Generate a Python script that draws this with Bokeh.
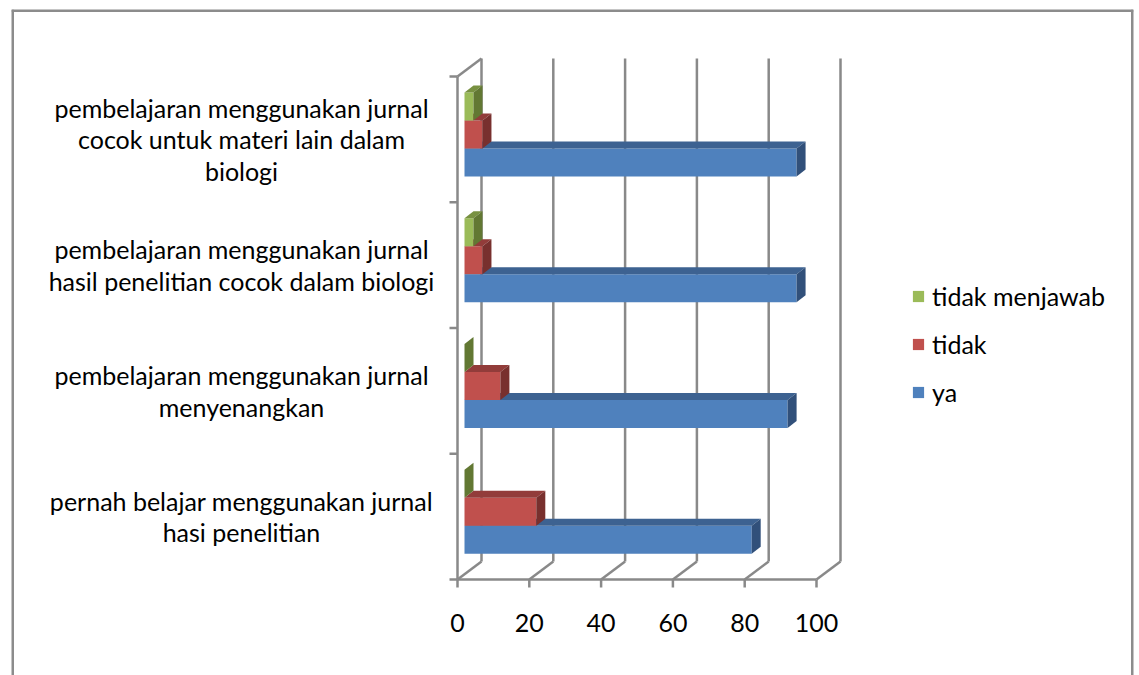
from bokeh.plotting import figure
from bokeh.models import Range1d, ColumnDataSource, Legend, LegendItem
from bokeh.core.properties import value
from bokeh.embed import file_html
from bokeh.resources import INLINE

# --- data -----------------------------------------------------------------
categories = [
    "pernah belajar menggunakan jurnal\nhasi penelitian",
    "pembelajaran menggunakan jurnal\nmenyenangkan",
    "pembelajaran menggunakan jurnal\nhasil penelitian cocok dalam biologi",
    "pembelajaran menggunakan jurnal\ncocok untuk materi lain dalam\nbiologi",
]
series_names = ["ya", "tidak", "tidak menjawab"]
ya = [80, 90, 92.5, 92.5]
tidak = [20, 10, 5, 5]
tidak_menjawab = [0, 0, 2.5, 2.5]
x_ticks = [0, 20, 40, 60, 80, 100]

# --- styling --------------------------------------------------------------
FONT = "Lato"
FONT_SIZE = "25px"
GRID = "#898989"
BORDER = "#8C8C8C"
# (front, top, side) shades for each series
SHADES = {
    "ya": ("#4F81BD", "#3D6291", "#31507A"),
    "tidak": ("#C0504D", "#923C3A", "#78302E"),
    "tidak menjawab": ("#9BBB59", "#789141", "#627833"),
}

W, H = 1139, 675
B_LEFT, B_RIGHT, B_TOP, B_BOTTOM = 11, 6, 9, 0
FW, FH = W - B_LEFT - B_RIGHT, H - B_TOP - B_BOTTOM

PX_X = 3.59      # pixels per value unit
PX_Y = 125.75    # pixels per category band
ORIGIN_X = 446   # frame pixels from the left to value 0
ORIGIN_Y = 96    # frame pixels from the bottom to the first band

x_start = -ORIGIN_X / PX_X
y_start = -ORIGIN_Y / PX_Y
x_range = Range1d(x_start, x_start + FW / PX_X)
y_range = Range1d(y_start, y_start + FH / PX_Y)


def ux(px):
    return px / PX_X


def uy(px):
    return px / PX_Y


# oblique projection of the chart depth
WALL_DX, WALL_DY = ux(24), uy(18)
BAR_X0, BAR_Y0 = ux(7), uy(5)      # front face of bars sits inside the box
BAR_DX, BAR_DY = ux(9), uy(7)      # thickness of each bar
BAR_H = uy(28)
n_cat = len(categories)

p = figure(width=W, height=H, x_range=x_range, y_range=y_range,
           output_backend="svg", toolbar_location=None,
           x_axis_location=None, y_axis_location=None,
           min_border_left=B_LEFT, min_border_right=B_RIGHT,
           min_border_top=B_TOP, min_border_bottom=B_BOTTOM)
p.grid.visible = False
p.outline_line_color = None
p.background_fill_color = "white"
p.border_fill_color = "white"

# chart-area border: left, top and right edges of the frame
xr0, xr1 = x_range.start, x_range.end
yr0, yr1 = y_range.start, y_range.end
p.segment(x0=[xr0, xr0, xr1], y0=[yr0, yr1, yr1],
          x1=[xr0, xr1, xr1], y1=[yr1, yr1, yr0],
          line_color=BORDER, line_width=5)

# --- box walls --------------------------------------------------------------
top = n_cat
seg = dict(x0=[], y0=[], x1=[], y1=[])


def add(a, b, c, d):
    seg["x0"].append(a); seg["y0"].append(b)
    seg["x1"].append(c); seg["y1"].append(d)


for t in x_ticks:
    add(t + WALL_DX, WALL_DY, t + WALL_DX, top + WALL_DY)   # back gridline
    add(t, 0, t + WALL_DX, WALL_DY)                         # floor diagonal
    add(t, 0, t, -uy(8))                                    # tick mark
add(x_ticks[0], 0, x_ticks[-1], 0)                          # floor front edge
add(0, 0, 0, top)                                           # side wall front edge
add(0, top, WALL_DX, top + WALL_DY)                         # side wall top edge
for i in range(n_cat + 1):
    add(-ux(8), i, 0, i)                                    # category ticks
p.segment(x0="x0", y0="y0", x1="x1", y1="y1", source=ColumnDataSource(seg),
          line_color=GRID, line_width=2.5)

# --- 3D bars ----------------------------------------------------------------
values = {"ya": ya, "tidak": tidak, "tidak menjawab": tidak_menjawab}
front_renderers = {}
for k, name in enumerate(series_names):
    vals = values[name]
    front, top_c, side_c = SHADES[name]
    ys = [i + 0.5 + (k - 1) * BAR_H + BAR_Y0 for i in range(n_cat)]
    lefts = [BAR_X0] * n_cat
    rights = [BAR_X0 + v for v in vals]
    r = p.hbar(y=ys, left=lefts, right=rights, height=BAR_H,
               fill_color=front, line_color=None)
    front_renderers[name] = r
    top_xs, top_ys, side_xs, side_ys = [], [], [], []
    for y, l, rr in zip(ys, lefts, rights):
        yt, yb = y + BAR_H / 2, y - BAR_H / 2
        top_xs.append([l, rr, rr + BAR_DX, l + BAR_DX])
        top_ys.append([yt, yt, yt + BAR_DY, yt + BAR_DY])
        side_xs.append([rr, rr, rr + BAR_DX, rr + BAR_DX])
        side_ys.append([yb, yt, yt + BAR_DY, yb + BAR_DY])
    p.patches(xs=top_xs, ys=top_ys, fill_color=top_c, line_color=None)
    p.patches(xs=side_xs, ys=side_ys, fill_color=side_c, line_color=None)

# --- labels -----------------------------------------------------------------
p.text(x=[0] * n_cat, y=[i + 0.5 for i in range(n_cat)], text=categories,
       x_offset=-216, text_align="center", text_baseline="middle",
       text_font=value(FONT), text_font_size=FONT_SIZE, text_color="black",
       text_line_height=1.05)
p.text(x=x_ticks, y=[0] * len(x_ticks), text=[str(t) for t in x_ticks],
       y_offset=43, text_align="center", text_baseline="middle",
       text_font=value(FONT), text_font_size=FONT_SIZE, text_color="black")

legend = Legend(
    items=[LegendItem(label=name, renderers=[front_renderers[name]])
           for name in reversed(series_names)],
    location=(900, 268), orientation="vertical",
    glyph_width=14, glyph_height=14, label_height=28, spacing=18,
    label_standoff=7, padding=0, margin=0,
    label_text_font=FONT, label_text_font_size=FONT_SIZE,
    label_text_color="black",
    background_fill_alpha=0, border_line_alpha=0,
)
p.add_layout(legend, "center")

open("out.html", "w").write(file_html(p, INLINE))
